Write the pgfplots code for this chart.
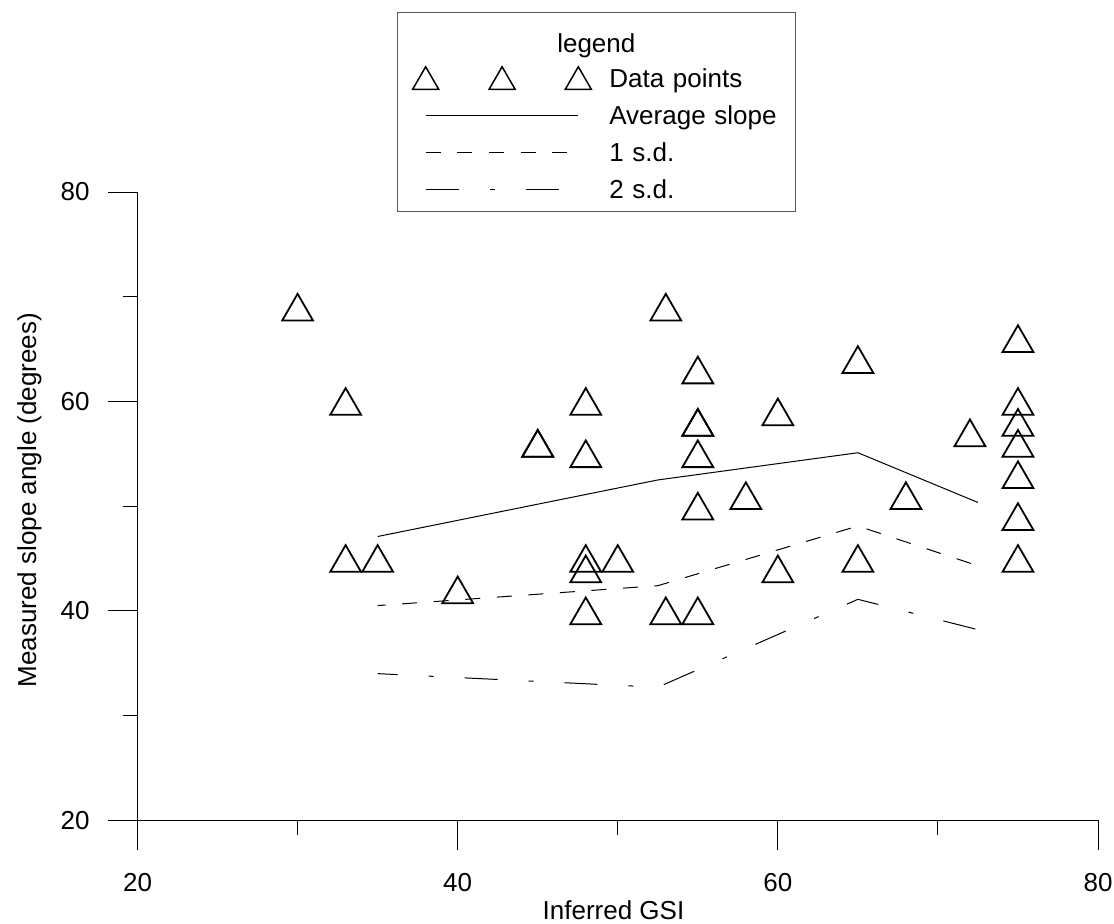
\documentclass[border=0pt]{standalone}
\usepackage{pgfplots}
\pgfplotsset{compat=1.18}
\usepackage{fontspec}
\setmainfont{Liberation Sans}
\pgfplotsset{
  linelegend/.style={legend image code/.code={%
      \path[draw=none] (0pt,0pt) -- (106pt,0pt);
      \draw[##1, dash phase=0pt] (14.2pt,0pt) -- (90.5pt,0pt);}},
  marklegend/.style={legend image code/.code={%
      \path[draw=none] (0pt,0pt) -- (106pt,0pt);
      \path[draw=none] plot[only marks, mark=triangle, mark size=7.5pt, mark options={draw=black, line width=0.75pt, yshift=-1.875pt}] coordinates {(14.2pt,0pt) (52.4pt,0pt) (90.5pt,0pt)};}},
}
\begin{document}
\begin{tikzpicture}[font=\fontsize{13}{15.6}\selectfont]
\begin{axis}[
  name=ax,
  scale only axis, width=480.1pt, height=314pt,
  xmin=20, xmax=80, ymin=20, ymax=80,
  axis lines=left, axis line style={-, line width=0.5pt},
  xtick={20,40,60,80}, ytick={20,40,60,80},
  minor xtick={30,50,70}, minor ytick={30,50,70},
  tick align=outside, major tick length=15pt, minor tick length=7.5pt,
  every tick/.style={black, line width=0.5pt},
  /pgf/number format/assume math mode=true,
  xticklabel style={anchor=north, inner sep=0pt, yshift=-11.25pt},
  yticklabel style={anchor=east, inner sep=0pt, xshift=-8.75pt},
  xlabel={Inferred GSI}, ylabel={Measured slope angle (degrees)},
  xlabel style={at={(axis description cs:0.4955,-0.1576)}, anchor=base, inner sep=0pt},
  ylabel style={at={(axis description cs:-0.1057,0.5096)}, anchor=base, inner sep=0pt},
  legend cell align=left,
  legend style={at={(axis description cs:0.2699,1.2866)}, anchor=north west,
    draw=black!65, line width=0.5pt, fill=white,
    inner xsep=0pt, inner ysep=4.1pt, row sep=5.4pt, column sep=0pt,
    cells={anchor=west},
    nodes={inner sep=0pt, text height=11.2pt, text depth=2pt, text width=93pt},
    label={[anchor=base, yshift=-20pt, inner sep=0pt, align=center]north:legend}},
]
\addlegendimage{empty legend}
\addlegendentry[text height=16.65pt, text depth=0pt]{\phantom{x}}

\addplot[only marks, mark=triangle, mark size=8.9pt, mark options={black, line width=0.9pt, yshift=-2.225pt}, marklegend] coordinates {
(30,69) (33,60) (33,45) (35,45) (40,42) (45,56) (45,56) (48,60) (48,55) (48,45) (48,44) (48,40) (50,45)
(53,69) (53,40) (55,63) (55,58) (55,58) (55,55) (55,50) (55,40) (58,51) (60,59) (60,44) (65,64) (65,45)
(68,51) (72,57) (75,66) (75,60) (75,58) (75,56) (75,53) (75,49) (75,45)
};
\addlegendentry{Data points}

\addplot[black, line width=0.5pt, linelegend] coordinates {(35,47.1) (52.5,52.5) (65,55.1) (72.5,50.35)};
\addlegendentry{Average slope}

\addplot[black, line width=0.5pt, dash pattern=on 7.5pt off 8.3pt, dash phase=3.5pt, linelegend] coordinates {(35,40.5) (52.5,42.4) (65,48.1) (72.5,44.3)};
\addlegendentry{1 s.d.}

\addplot[black, line width=0.5pt, dash pattern=on 16.5pt off 15.5pt on 2.5pt off 15.5pt, dash phase=6.5pt, linelegend] coordinates {(35,34.0) (52.5,32.7) (65,41.1) (72.5,38.2)};
\addlegendentry{2 s.d.}
\end{axis}
\pgfresetboundingbox
\useasboundingbox ([shift={(-68.75pt,-51.5pt)}]ax.south west) rectangle ([shift={(8pt,96pt)}]ax.north east);
\end{tikzpicture}
\end{document}
